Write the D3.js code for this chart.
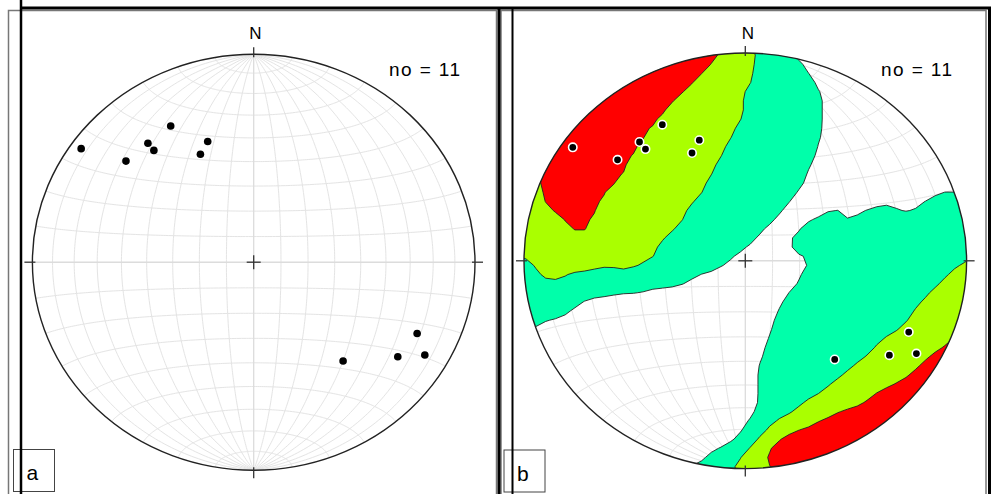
<!DOCTYPE html>
<html><head><meta charset="utf-8">
<script src="https://cdn.jsdelivr.net/npm/d3@7"></script>
<style>body{margin:0;background:#fff}svg{display:block}</style>
</head><body>
<svg id="c" width="994" height="494"></svg>
<script>
// Poles to planes, lower hemisphere: trend / plunge (degrees)
const trends  = [305.0, 310.1, 320.1, 320.0, 330.2, 340.3, 335.1, 114.9, 124.9, 120.0, 139.6];
const plunges = [5.4, 25.5, 26.4, 30.5, 25.5, 38.3, 42.3, 19.7, 21.7, 11.7, 37.7];
const panelLabels = ["a", "b"];
const countLabel = "no = " + trends.length;
const northLabel = "N";
// Kamb contouring: levels in multiples of sigma, with their fills
const sigmaLevels = [2, 4, 6];
const levelColors = ["#00ffaa", "#aaff00", "#ff0000"];

const svg = d3.select("#c");
const panels = [
  {cx: 253.7, cy: 262.2, rx: 221.3, ry: 208, contour: false, label: panelLabels[0], lx: 13.5, ly: 449.5, nx: 255.5, tx: 389},
  {cx: 745.3, cy: 260.8, rx: 221.3, ry: 207.8, contour: true, label: panelLabels[1], lx: 504, ly: 450, nx: 748, tx: 881}
];

const toRad = Math.PI / 180;
const vecs = trends.map((t, i) => {
  const p = plunges[i] * toRad, tr = t * toRad;
  return [Math.cos(p) * Math.sin(tr), Math.cos(p) * Math.cos(tr), Math.sin(p)];
});
const geoPts = vecs.map(v => [Math.atan2(v[0], v[2]) / toRad, Math.asin(v[1]) / toRad]);

const base = d3.geoAzimuthalEqualArea().scale(1 / Math.SQRT2).translate([0, 0]).rotate([0, 0]).clipAngle(90).precision(0.05);

function makePath(P) {
  const post = d3.geoTransform({point(x, y) { this.stream.point(P.cx + P.rx * x, P.cy + P.ry * y); }});
  return d3.geoPath({stream: s => base.stream(post.stream(s))});
}

// graticule: meridians and parallels every 10 degrees
const meridians = d3.range(-80, 81, 10).filter(d => d !== 0).map(lon => d3.range(-90, 90.01, 1).map(lat => [lon, lat]));
const parallels = d3.range(-80, 81, 10).filter(d => d !== 0).map(lat => d3.range(-90, 90.01, 1).map(lon => [lon, lat]));
const gratGeo = {type: "MultiLineString", coordinates: meridians.concat(parallels)};

// Kamb counting on a grid (axial data, counting cone area = 9/(n+9) of hemisphere)
const N = trends.length;
const area = 9 / (N + 9);
const cosCone = 1 - area;
const sigma = Math.sqrt(N * area * (1 - area));
const n = 50, E = 1.1, step = 2 * E / n;
let values = new Float64Array(n * n);
for (let j = 0; j < n; j++) {
  for (let i = 0; i < n; i++) {
    const X = -E + (i + 0.5) * step, Y = E - (j + 0.5) * step;
    const r2 = Math.min(X * X + Y * Y, 2);
    const s = Math.sqrt(2 - r2);
    const g = [X * s, Y * s, 1 - r2];
    let c = 0;
    for (const v of vecs) if (Math.abs(g[0]*v[0] + g[1]*v[1] + g[2]*v[2]) >= cosCone) c++;
    values[j * n + i] = c / sigma;
  }
}
// light binomial smoothing of the count grid
function smooth(a) {
  const out = new Float64Array(n * n), w = [1, 2, 1];
  for (let j = 0; j < n; j++) for (let i = 0; i < n; i++) {
    let s = 0, ws = 0;
    for (let dj = -1; dj <= 1; dj++) for (let di = -1; di <= 1; di++) {
      const ii = i + di, jj = j + dj;
      if (ii < 0 || jj < 0 || ii >= n || jj >= n) continue;
      const ww = w[di + 1] * w[dj + 1];
      s += ww * a[jj * n + ii]; ws += ww;
    }
    out[j * n + i] = s / ws;
  }
  return out;
}
values = smooth(values);
const contours = d3.contours().size([n, n]).thresholds(sigmaLevels)(values);

panels.forEach((P, k) => {
  const g = svg.append("g");
  const path = makePath(P);
  const clipId = "clip" + k;
  svg.append("defs").append("clipPath").attr("id", clipId)
    .append("ellipse").attr("cx", P.cx).attr("cy", P.cy).attr("rx", P.rx).attr("ry", P.ry);

  g.append("ellipse").attr("cx", P.cx).attr("cy", P.cy).attr("rx", P.rx).attr("ry", P.ry).attr("fill", "#fff");
  g.append("path").attr("d", path(gratGeo)).attr("fill", "none").attr("stroke", "#e4e4e4").attr("stroke-width", 1);
  g.append("line").attr("x1", P.cx - P.rx).attr("x2", P.cx + P.rx).attr("y1", P.cy).attr("y2", P.cy).attr("stroke", "#dcdcdc").attr("stroke-width", 1.6);
  g.append("line").attr("x1", P.cx).attr("x2", P.cx).attr("y1", P.cy - P.ry).attr("y2", P.cy + P.ry).attr("stroke", "#dcdcdc").attr("stroke-width", 1.3);

  if (P.contour) {
    const cpath = d3.geoPath(d3.geoTransform({point(x, y) {
      this.stream.point(P.cx + P.rx * (-E + x * step), P.cy - P.ry * (E - y * step));
    }}));
    g.append("g").attr("clip-path", `url(#${clipId})`)
      .selectAll("path").data(contours).join("path")
      .attr("d", cpath).attr("fill", (d, i) => levelColors[i])
      .attr("stroke", "#222").attr("stroke-width", 0.9);
  }

  g.append("ellipse").attr("cx", P.cx).attr("cy", P.cy).attr("rx", P.rx).attr("ry", P.ry)
    .attr("fill", "none").attr("stroke", "#222").attr("stroke-width", 1.4);
  const tk = [[P.cx, P.cy - P.ry - 7, P.cx, P.cy - P.ry + 3], [P.cx, P.cy + P.ry - 3, P.cx, P.cy + P.ry + 8],
              [P.cx - P.rx - 8, P.cy, P.cx - P.rx + 3, P.cy], [P.cx + P.rx - 3, P.cy, P.cx + P.rx + 8, P.cy],
              [P.cx - 7, P.cy, P.cx + 7, P.cy], [P.cx, P.cy - 7, P.cx, P.cy + 7]];
  g.selectAll("line.tk").data(tk).join("line").attr("class", "tk")
    .attr("x1", d => d[0]).attr("y1", d => d[1]).attr("x2", d => d[2]).attr("y2", d => d[3])
    .attr("stroke", "#333").attr("stroke-width", 1.3);

  g.selectAll("circle.pt").data(geoPts).join("circle").attr("class", "pt")
    .attr("cx", d => P.cx + P.rx * base(d)[0]).attr("cy", d => P.cy + P.ry * base(d)[1])
    .attr("r", P.contour ? 4.2 : 3.8).attr("fill", "#000")
    .attr("stroke", P.contour ? "#fff" : "none").attr("stroke-width", 1.6);

  g.append("text").attr("x", P.nx).attr("y", 38.5).attr("text-anchor", "middle")
    .attr("font-family", "Liberation Sans, Arial, sans-serif").attr("font-size", 17).text(northLabel);
  g.append("text").attr("x", P.tx).attr("y", 75.5)
    .attr("font-family", "Liberation Sans, Arial, sans-serif").attr("font-size", 19).attr("textLength", 71).text(countLabel);

  g.append("rect").attr("x", P.lx).attr("y", P.ly).attr("width", 41).attr("height", 42)
    .attr("fill", "none").attr("stroke", "#444").attr("stroke-width", 1);
  g.append("text").attr("x", P.lx + 13).attr("y", P.ly + 30.5)
    .attr("font-family", "Liberation Sans, Arial, sans-serif").attr("font-size", 21).text(P.label);
});

const fr = svg.append("g").attr("fill", "none");
fr.append("rect").attr("x", 8.5).attr("y", 10.5).attr("width", 488).attr("height", 500).attr("stroke", "#777").attr("stroke-width", 1.5);
fr.append("rect").attr("x", 501).attr("y", 10.5).attr("width", 485).attr("height", 500).attr("stroke", "#777").attr("stroke-width", 1.5);
fr.append("line").attr("x1", 20).attr("x2", 991).attr("y1", 8).attr("y2", 8).attr("stroke", "#000").attr("stroke-width", 3);
fr.append("line").attr("x1", 21).attr("x2", 21).attr("y1", 0).attr("y2", 494).attr("stroke", "#000").attr("stroke-width", 2.5);
fr.append("line").attr("x1", 499).attr("x2", 499).attr("y1", 8).attr("y2", 494).attr("stroke", "#000").attr("stroke-width", 3);
fr.append("line").attr("x1", 512.5).attr("x2", 512.5).attr("y1", 8).attr("y2", 494).attr("stroke", "#000").attr("stroke-width", 2);
fr.append("line").attr("x1", 989.5).attr("x2", 989.5).attr("y1", 8).attr("y2", 494).attr("stroke", "#000").attr("stroke-width", 3);
</script>
</body></html>
